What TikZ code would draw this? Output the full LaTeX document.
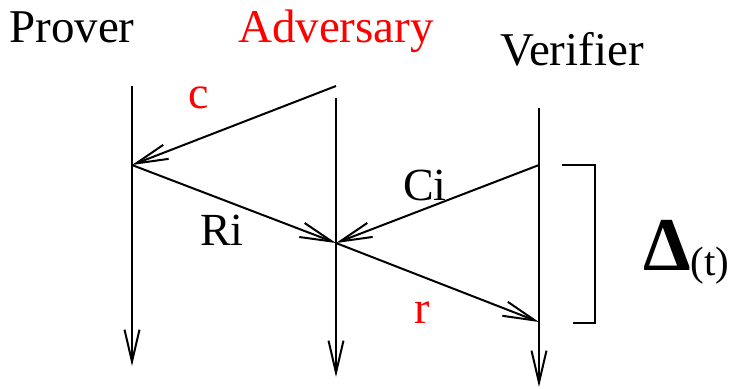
\documentclass[tikz,border=0pt]{standalone}
\usepackage{fontspec}
\setmainfont{Liberation Serif}
\usetikzlibrary{arrows.meta}

\begin{document}
\begin{tikzpicture}[
    x=0.5pt, y=-0.5pt,
    line width=1pt,
    >={Straight Barb[length=16pt,width=7.5pt]},
    actor/.style={font=\fontsize{23.5}{28}\selectfont, anchor=base, inner sep=0pt},
    msglabel/.style={font=\fontsize{23}{28}\selectfont, anchor=base, inner sep=0pt}
]
    \useasboundingbox (0,0) rectangle (730,388);

    % Lifeline positions
    \def\xP{132}
    \def\xA{336}
    \def\xV{539}

    % Actor names
    \node[actor] (prover) at (72,42) {Prover};
    \node[actor, red] (adversary) at (\xA,42) {Adversary};
    \node[actor] (verifier) at (572,65) {Verifier};

    % Lifelines
    \coordinate (Ptop) at (\xP,86);
    \coordinate (Pbot) at (\xP,366);
    \coordinate (Atop) at (\xA,98);
    \coordinate (Abot) at (\xA,377);
    \coordinate (Vtop) at (\xV,108);
    \coordinate (Vbot) at (\xV,387);
    \draw[->] (Ptop) -- (Pbot);
    \draw[->] (Atop) -- (Abot);
    \draw[->] (Vtop) -- (Vbot);

    % Message events
    \coordinate (cSend) at (\xA,86);
    \coordinate (pRecv) at (\xP,165);
    \coordinate (aRecv) at (\xA,243);
    \coordinate (vSend) at (\xV,165);
    \coordinate (vRecv) at (\xV,322);

    % Messages
    \draw[->] (cSend) -- (pRecv);
    \draw[->] (pRecv) -- (aRecv);
    \draw[->] (vSend) -- (aRecv);
    \draw[->] (aRecv) -- (vRecv);

    % Message labels
    \node[msglabel, red] (lc) at (199,108) {c};
    \node[msglabel] (lRi) at (222,245) {Ri};
    \node[msglabel] (lCi) at (425,200) {Ci};
    \node[msglabel, red] (lr) at (422,323) {r};

    % Round-trip bracket
    \coordinate (brTop) at (562,165);
    \coordinate (brBot) at (573,323);
    \draw[line width=0.8pt] (brTop) -| (595,323) -- (brBot);
    \node[anchor=base west, inner sep=0pt] (delta) at (642,270)
        {\fontsize{38}{40}\selectfont\bfseries Δ\mdseries\fontsize{20.5}{24}\selectfont\raisebox{-2.5pt}{(t)}};

\end{tikzpicture}
\end{document}
